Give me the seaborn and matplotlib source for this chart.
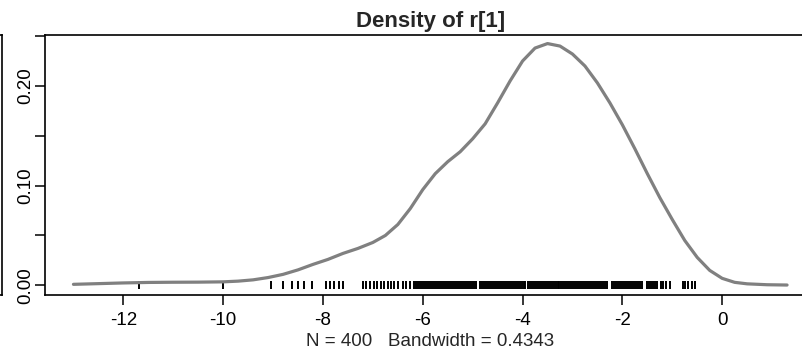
import matplotlib
matplotlib.use("Agg")
import matplotlib.pyplot as plt
import seaborn as sns

# density estimate of r[1]
dens_x = [-13.0, -12.5, -12.0, -11.5, -11.0, -10.5, -10.0, -9.7, -9.4, -9.1,
          -8.8, -8.5, -8.2, -7.9, -7.6, -7.3, -7.0, -6.75, -6.5, -6.25,
          -6.0, -5.75, -5.5, -5.25, -5.0, -4.75, -4.5, -4.25, -4.0, -3.75,
          -3.5, -3.25, -3.0, -2.75, -2.5, -2.25, -2.0, -1.75, -1.5, -1.25,
          -1.0, -0.75, -0.5, -0.25, 0.0, 0.25, 0.5, 0.9, 1.3]
dens_y = [0.001, 0.0017, 0.0024, 0.0029, 0.0031, 0.0032, 0.0035, 0.0042, 0.0055, 0.0078,
          0.011, 0.0155, 0.021, 0.026, 0.032, 0.037, 0.043, 0.050, 0.061, 0.077,
          0.096, 0.112, 0.124, 0.134, 0.147, 0.162, 0.183, 0.205, 0.225, 0.238,
          0.2425, 0.240, 0.232, 0.220, 0.203, 0.183, 0.161, 0.137, 0.112, 0.088,
          0.066, 0.045, 0.028, 0.015, 0.007, 0.003, 0.0015, 0.0006, 0.0003]

# rug of the observations
rug_x = [
    -11.68, -10.0, -9.04, -8.8, -8.63, -8.5, -8.38, -8.22,
    -7.94, -7.86, -7.78, -7.68, -7.6,
    -7.2, -7.14, -7.06, -6.98, -6.92, -6.84, -6.78, -6.7, -6.64, -6.58,
    -6.5, -6.4, -6.34, -6.26,
    -6.18, -6.14, -6.1, -6.06, -6.02, -5.98, -5.94, -5.9, -5.86, -5.82,
    -5.78, -5.74, -5.7, -5.66, -5.62, -5.58, -5.54, -5.5, -5.46, -5.42,
    -5.38, -5.34, -5.3, -5.26, -5.22, -5.18, -5.14, -5.1, -5.06, -5.02,
    -4.98, -4.94,
    -4.86, -4.82, -4.78, -4.74, -4.7, -4.66, -4.62, -4.58, -4.54, -4.5,
    -4.46, -4.42, -4.38, -4.34, -4.3, -4.26, -4.22, -4.18, -4.14, -4.1,
    -4.06, -4.02, -3.98, -3.95,
    -3.9, -3.86, -3.82, -3.78, -3.74, -3.7, -3.66, -3.62, -3.58, -3.54,
    -3.5, -3.46, -3.42, -3.38, -3.34, -3.3, -3.26, -3.22, -3.18, -3.14,
    -3.1, -3.06, -3.02, -2.98, -2.94, -2.9, -2.86, -2.82, -2.78, -2.74,
    -2.7, -2.66, -2.62, -2.58, -2.54, -2.5, -2.46, -2.42, -2.38, -2.34,
    -2.3,
    -2.2, -2.16, -2.12, -2.08, -2.04, -2.0, -1.96, -1.92, -1.88, -1.84,
    -1.8, -1.76, -1.72, -1.68, -1.64, -1.6,
    -1.5, -1.46, -1.42, -1.38, -1.34, -1.3, -1.22, -1.18, -1.12, -1.04,
    -0.78, -0.74, -0.68, -0.6, -0.54,
]

title = "Density of r[1]"
xlabel = "N = 400   Bandwidth = 0.4343"
xticks = [-12, -10, -8, -6, -4, -2, 0]
yticks = [0.0, 0.05, 0.10, 0.15, 0.20, 0.25]
ytick_labels = ["0.00", "", "0.10", "", "0.20", ""]

sns.set_style("ticks")
plt.rcParams["font.family"] = ["Liberation Sans", "DejaVu Sans"]

W, H = 803, 352
fig = plt.figure(figsize=(W / 100, H / 100), dpi=100)
fig.patch.set_facecolor("white")

# main panel (box runs off the right edge like the reference)
left, right, top, bottom = 45, 815.5, 35, 295
ax = fig.add_axes([left / W, 1 - bottom / H, (right - left) / W, (bottom - top) / H])

# panel to the left, only its right edge is visible
axl = fig.add_axes([-0.3, 1 - bottom / H, 0.3 + 2 / W, (bottom - top) / H])
axl.set_xticks([])
axl.set_yticks([])
for s in axl.spines.values():
    s.set_color("black")
    s.set_linewidth(1.2)

sns.lineplot(x=dens_x, y=dens_y, ax=ax, color="#808080", linewidth=2.3,
             estimator=None, sort=False)
sns.scatterplot(x=rug_x, y=[0.0] * len(rug_x), ax=ax, marker="|", s=30,
                color="black", linewidth=1.4, legend=False)

ax.set_xlim(-13.57, 1.87)
ax.set_ylim(-0.0097, 0.2511)
ax.set_xticks(xticks)
ax.set_xticklabels([str(t) for t in xticks])
ax.set_yticks(yticks)
ax.set_yticklabels(ytick_labels)

for s in ax.spines.values():
    s.set_visible(True)
    s.set_color("black")
    s.set_linewidth(1.2)

ax.tick_params(axis="both", direction="out", length=7, width=1.1,
               color="black", labelsize=13.5, labelcolor="black")
ax.tick_params(axis="x", pad=5)
ax.tick_params(axis="y", pad=1)
for lab in ax.get_yticklabels():
    lab.set_rotation(90)
    lab.set_va("center")

ax.set_title(title, fontsize=16, fontweight="bold", pad=6)
ax.set_xlabel(xlabel, fontsize=13.5)
ax.xaxis.label.set_va("center")
ax.xaxis.set_label_coords(0.5, -(342 - bottom) / (bottom - top))
ax.set_ylabel("")

# x label of the panel above, mostly cut off by the top edge
fig.text(427 / W, 1 + 5.5 / H, xlabel, ha="center", va="center", fontsize=13.5)

fig.savefig("out.png", dpi=100)
